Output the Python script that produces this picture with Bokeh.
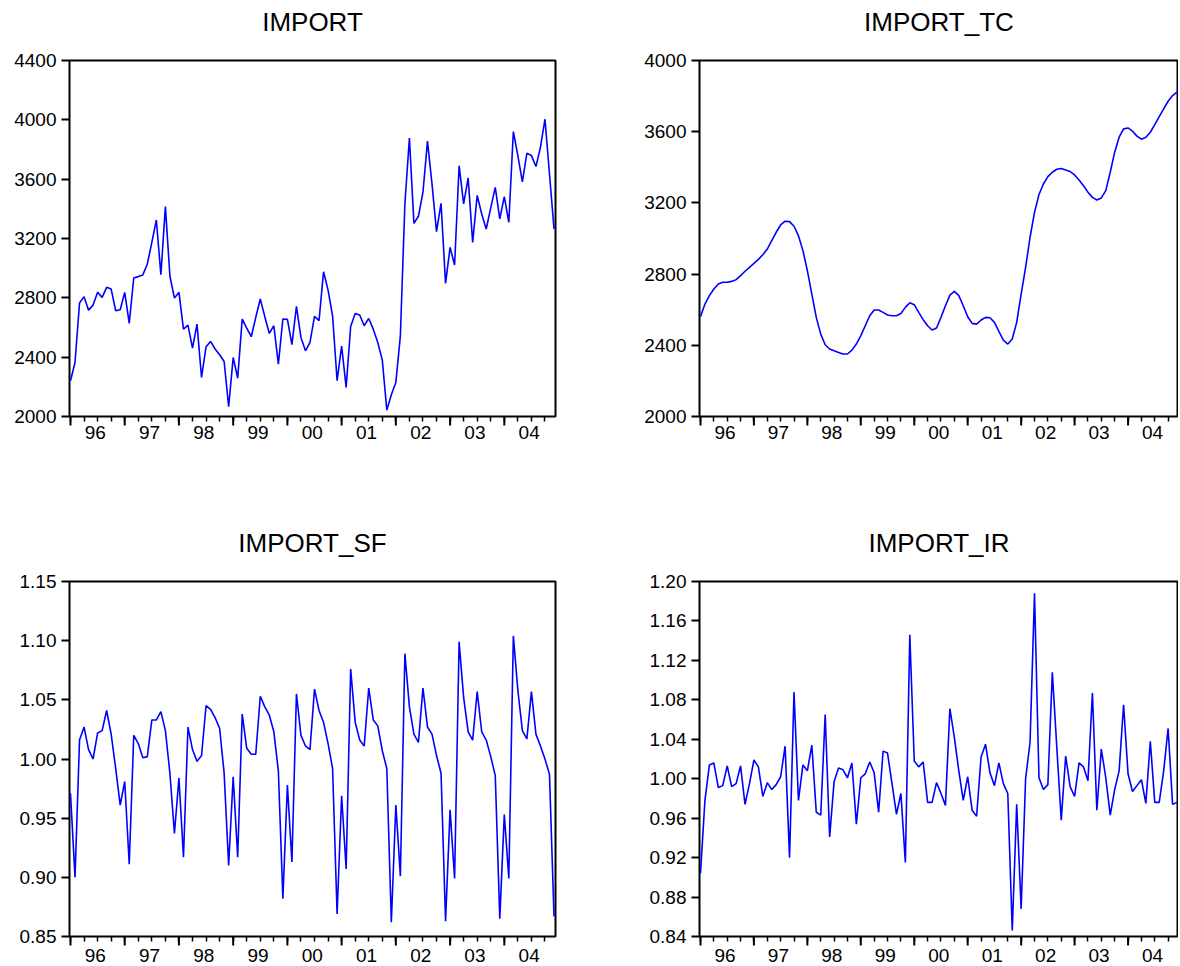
from bokeh.plotting import figure
from bokeh.models import Range1d, FixedTicker, LinearAxis, PrintfTickFormatter
from bokeh.layouts import column, row
from bokeh.embed import file_html
from bokeh.resources import INLINE

year_labels = ["96", "97", "98", "99", "00", "01", "02", "03", "04"]

import_vals = [
    2241, 2364, 2765, 2808, 2717, 2751, 2837, 2803, 2871, 2859,
    2713, 2720, 2837, 2628, 2934, 2943, 2954, 3028, 3174, 3325,
    2956, 3415, 2947, 2798, 2837, 2589, 2616, 2461, 2623, 2263,
    2470, 2506, 2455, 2416, 2371, 2066, 2398, 2259, 2657, 2596,
    2538, 2668, 2792, 2673, 2560, 2612, 2353, 2657, 2655, 2484,
    2742, 2533, 2443, 2499, 2675, 2646, 2976, 2852, 2679, 2241,
    2475, 2196, 2607, 2695, 2684, 2612, 2661, 2589, 2499, 2380,
    2043, 2146, 2229, 2544, 3433, 3878, 3302, 3350, 3512, 3856,
    3568, 3246, 3437, 2897, 3140, 3021, 3691, 3433, 3608, 3174,
    3491, 3365, 3264, 3406, 3545, 3332, 3482, 3309, 3921, 3759,
    3581, 3775, 3759, 3685, 3815, 4004, 3635, 3264,
]

import_tc = [
    2560, 2632, 2679, 2716, 2744, 2754, 2754, 2759, 2769, 2791,
    2816, 2838, 2860, 2883, 2909, 2941, 2988, 3035, 3076, 3097,
    3095, 3069, 3016, 2932, 2819, 2688, 2557, 2463, 2403, 2379,
    2369, 2360, 2351, 2351, 2373, 2407, 2454, 2510, 2566, 2598,
    2598, 2585, 2570, 2566, 2566, 2579, 2613, 2639, 2628, 2585,
    2544, 2510, 2486, 2497, 2557, 2622, 2682, 2703, 2679, 2622,
    2560, 2523, 2519, 2542, 2557, 2555, 2529, 2478, 2429, 2407,
    2435, 2529, 2688, 2838, 3007, 3147, 3247, 3306, 3348, 3372,
    3389, 3393, 3385, 3376, 3357, 3329, 3297, 3260, 3231, 3216,
    3228, 3269, 3372, 3485, 3569, 3616, 3621, 3603, 3575, 3558,
    3569, 3597, 3640, 3685, 3728, 3771, 3803, 3822,
]

import_sf = [
    0.971, 0.900, 1.016, 1.027, 1.008, 1.000, 1.022, 1.024, 1.041, 1.021,
    0.992, 0.961, 0.981, 0.911, 1.020, 1.013, 1.001, 1.002, 1.033, 1.033,
    1.040, 1.024, 0.988, 0.937, 0.984, 0.917, 1.027, 1.008, 0.998, 1.003,
    1.045, 1.042, 1.035, 1.026, 0.988, 0.910, 0.985, 0.917, 1.038, 1.009,
    1.004, 1.004, 1.053, 1.044, 1.037, 1.023, 0.990, 0.882, 0.978, 0.913,
    1.055, 1.020, 1.011, 1.008, 1.059, 1.041, 1.031, 1.013, 0.992, 0.869,
    0.969, 0.907, 1.076, 1.031, 1.016, 1.011, 1.060, 1.033, 1.028, 1.007,
    0.992, 0.862, 0.961, 0.901, 1.089, 1.044, 1.021, 1.014, 1.060, 1.027,
    1.021, 1.003, 0.988, 0.863, 0.957, 0.899, 1.099, 1.052, 1.023, 1.016,
    1.057, 1.023, 1.016, 1.002, 0.986, 0.865, 0.953, 0.899, 1.104, 1.058,
    1.024, 1.017, 1.057, 1.021, 1.011, 1.000, 0.987, 0.867,
]

import_ir = [
    0.904, 0.978, 1.014, 1.016, 0.991, 0.993, 1.013, 0.992, 0.995, 1.013,
    0.974, 0.995, 1.019, 1.012, 0.982, 0.996, 0.989, 0.994, 1.002, 1.033,
    0.920, 1.088, 0.978, 1.014, 1.008, 1.034, 0.966, 0.963, 1.065, 0.941,
    0.997, 1.011, 1.009, 1.001, 1.016, 0.954, 1.001, 1.005, 1.017, 1.006,
    0.966, 1.028, 1.026, 0.995, 0.964, 0.985, 0.915, 1.146, 1.018, 1.012,
    1.017, 0.976, 0.976, 0.996, 0.985, 0.973, 1.071, 1.042, 1.008, 0.978,
    1.002, 0.968, 0.962, 1.022, 1.035, 1.006, 0.993, 1.016, 0.995, 0.985,
    0.846, 0.974, 0.868, 1.000, 1.037, 1.188, 1.001, 0.989, 0.994, 1.108,
    1.032, 0.958, 1.023, 0.992, 0.982, 1.016, 1.012, 0.998, 1.087, 0.968,
    1.030, 1.001, 0.963, 0.989, 1.008, 1.075, 1.005, 0.987, 0.993, 0.999,
    0.975, 1.038, 0.976, 0.976, 1.008, 1.051, 0.974, 0.976,
]

ticks_import = [2000, 2400, 2800, 3200, 3600, 4000, 4400]
ticks_tc = [2000, 2400, 2800, 3200, 3600, 4000]
ticks_sf = [0.85, 0.90, 0.95, 1.00, 1.05, 1.10, 1.15]
ticks_ir = [0.84, 0.88, 0.92, 0.96, 1.00, 1.04, 1.08, 1.12, 1.16, 1.20]

FONT = "Liberation Sans"
X0, X1 = -0.22, 107.33
months = list(range(len(import_vals)))
year_ticks = list(range(0, 12 * len(year_labels), 12))
quarter_ticks = list(range(0, 12 * len(year_labels) + 1, 3))
label_pos = [12 * k + 5.5 for k in range(len(year_labels))]
FRAME_H = 356
LONG_TICK_PX = 9


def panel(title, xs, ys, yticks, fmt, width, height, bl, br, bt, bb, xstandoff):
    ylo, yhi = yticks[0], yticks[-1]
    p = figure(width=width, height=height, output_backend="svg", toolbar_location=None,
               x_range=Range1d(X0, X1), y_range=Range1d(ylo, yhi),
               min_border_left=bl, min_border_right=br, min_border_top=bt, min_border_bottom=bb,
               background_fill_color="white", border_fill_color="white",
               x_axis_location=None, y_axis_location="left")
    p.grid.visible = False
    p.outline_line_color = "black"
    p.outline_line_width = 2
    p.outline_line_alpha = 1.0

    # title drawn as a label of a top axis (keeps exact distance from frame)
    centre = (X0 + X1) / 2.0
    ta = LinearAxis(ticker=FixedTicker(ticks=[centre]), major_label_overrides={centre: title})
    ta.major_tick_out = 0
    ta.major_tick_in = 0
    ta.minor_tick_out = 0
    ta.minor_tick_in = 0
    ta.axis_line_color = None
    ta.major_label_standoff = 24
    ta.major_label_text_font = FONT
    ta.major_label_text_font_size = "26px"
    ta.major_label_text_color = "black"
    p.add_layout(ta, "above")

    # bottom axis: year labels centred between year ticks, quarterly minor ticks
    la = LinearAxis(ticker=FixedTicker(ticks=label_pos, minor_ticks=quarter_ticks),
                    major_label_overrides={pos: lab for pos, lab in zip(label_pos, year_labels)})
    la.major_tick_out = 0
    la.major_tick_in = 0
    la.minor_tick_out = 5
    la.minor_tick_in = 0
    la.minor_tick_line_width = 1.5
    la.minor_tick_line_color = "black"
    la.axis_line_color = None
    la.major_label_standoff = xstandoff
    la.major_label_text_font = FONT
    la.major_label_text_font_size = "19px"
    la.major_label_text_color = "black"
    p.add_layout(la, "below")

    # longer ticks at the year boundaries
    d = LONG_TICK_PX * (yhi - ylo) / FRAME_H
    p.segment(x0=year_ticks, y0=[ylo] * len(year_ticks), x1=year_ticks,
              y1=[ylo - d] * len(year_ticks), line_color="black", line_width=2, level="overlay")

    ya = p.yaxis[0]
    ya.ticker = FixedTicker(ticks=yticks)
    ya.formatter = PrintfTickFormatter(format=fmt)
    ya.major_tick_out = 8
    ya.major_tick_in = 0
    ya.minor_tick_out = 0
    ya.minor_tick_in = 0
    ya.major_tick_line_width = 2
    ya.major_tick_line_color = "black"
    ya.axis_line_color = None
    ya.major_label_standoff = 5
    ya.major_label_text_font = FONT
    ya.major_label_text_font_size = "19px"
    ya.major_label_text_color = "black"

    p.line(xs, ys, line_color="#0000FF", line_width=1.6)
    return p


p1 = panel("IMPORT", months, import_vals, ticks_import, "%d", 638, 521, 69, 83, 60, 105, 4)
p2 = panel("IMPORT_TC", months, import_tc, ticks_tc, "%d", 540, 521, 61, 0, 60, 105, 4)
p3 = panel("IMPORT_SF", months, import_sf, ticks_sf, "%.2f", 638, 443, 69, 83, 60, 27, 7)
p4 = panel("IMPORT_IR", months, import_ir, ticks_ir, "%.2f", 540, 443, 61, 0, 60, 27, 7)

layout = column(row(p1, p2), row(p3, p4))
open("out.html", "w").write(file_html(layout, INLINE))
